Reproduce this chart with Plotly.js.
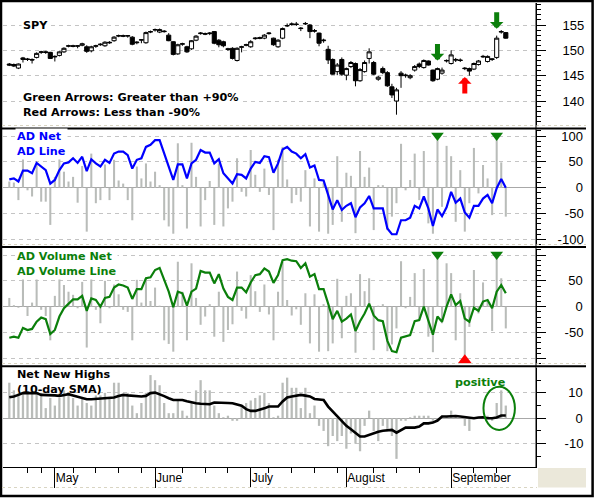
<!DOCTYPE html>
<html><head><meta charset="utf-8">
<script src="https://cdn.plot.ly/plotly-3.0.1.min.js"></script>
<style>html,body{margin:0;padding:0;background:#fff;overflow:hidden}#chart{width:594px;height:500px}</style>
</head><body><div id="chart"></div>
<script>
// ---- x axis (trading days, Apr 17 - Sep 20 2007) ----
const monthTickDays = [10, 32, 53, 74, 97];
const monthNames = ['May', 'June', 'July', 'August', 'September'];
const weekTickDays = [4, 7, 14, 19, 24, 29, 38, 43, 48, 57, 62, 67, 72, 80, 85, 90, 102, 107];

// ---- SPY candles ----
const spyOpen = [147.3,147.2,146.5,148.2,148.3,148.2,148.6,149.6,149.7,149.6,148.7,149.0,149.7,150.8,150.9,150.8,151.0,150.7,149.9,150.8,
151.1,150.9,151.6,151.9,152.8,152.9,152.8,152.6,151.5,152.0,151.5,153.6,154.0,153.6,153.8,153.0,151.7,149.3,151.2,150.7,
150.3,152.0,153.3,153.3,153.3,153.7,152.0,151.7,150.3,150.4,148.0,150.6,151.0,150.7,152.3,152.5,152.4,153.3,152.4,150.7,
152.4,154.8,155.1,155.2,154.4,155.2,155.0,153.9,153.4,151.9,150.2,148.2,145.8,148.2,145.1,146.8,147.4,144.0,145.8,148.4,
147.6,144.3,146.4,145.6,142.8,140.0,145.5,145.0,144.6,146.1,147.3,146.6,147.9,146.1,144.3,145.5,147.9,147.4,148.2,148.1,
146.5,146.4,146.3,147.2,148.7,147.8,148.2,148.6,153.6,153.5];
const spyHigh = [147.5,147.4,147.4,148.7,148.5,148.4,149.6,149.9,149.9,149.7,149.0,149.8,150.6,151.1,151.1,151.0,151.5,151.0,150.9,151.1,
151.4,151.8,151.8,152.8,153.1,153.1,153.0,152.8,151.8,152.2,153.7,153.9,154.3,154.3,154.0,153.4,151.8,151.3,151.5,150.9,
152.0,153.0,153.6,153.5,153.6,153.8,152.2,151.9,150.5,150.6,150.6,150.9,151.3,152.0,152.6,152.7,153.2,153.6,152.5,152.2,
154.5,155.3,155.5,155.6,154.6,155.6,155.2,154.2,153.5,152.3,150.9,148.4,147.5,148.6,146.6,147.9,147.6,146.5,148.0,150.4,
147.9,145.0,146.8,145.9,143.4,142.6,145.9,145.4,145.3,147.1,147.6,148.2,148.0,146.2,146.6,146.6,148.2,150.0,148.5,148.4,
146.7,146.6,147.6,148.1,149.1,149.0,148.4,152.9,154.0,153.6];
const spyLow = [146.9,146.7,146.3,147.6,147.9,147.4,148.4,149.3,149.3,148.3,147.8,148.8,149.5,150.6,150.6,150.4,150.8,149.5,149.6,150.5,
150.9,150.7,151.3,151.7,152.6,152.6,152.5,151.0,151.2,151.4,151.3,153.4,153.7,153.4,153.5,151.8,149.0,149.1,150.9,149.5,
150.1,151.8,153.1,153.0,153.0,151.2,150.6,150.6,149.9,148.2,147.8,149.6,150.8,150.5,152.1,152.2,152.2,153.1,150.9,150.5,
152.2,154.6,154.9,154.8,153.8,155.0,152.4,153.5,150.8,151.5,147.3,145.2,145.1,145.0,144.1,146.5,142.9,143.8,145.6,147.4,
145.1,144.0,145.3,142.8,140.6,137.3,142.6,144.6,144.3,145.8,146.5,146.4,147.0,143.8,144.1,145.2,147.6,147.2,147.7,147.7,
146.1,145.0,146.1,147.0,148.5,147.6,147.9,148.3,153.3,152.3];
const spyClose = [147.1,146.9,147.3,148.5,148.2,148.1,149.4,149.7,149.6,148.4,148.8,149.7,150.4,150.9,150.8,150.9,151.3,149.8,150.7,150.9,
151.2,151.6,151.5,152.6,152.9,152.8,152.9,151.2,151.6,152.1,153.5,153.7,154.1,154.1,153.7,151.9,149.2,151.1,151.3,149.7,
151.9,152.8,153.4,153.2,153.4,151.4,151.1,150.9,150.2,148.4,150.4,150.7,151.1,151.7,152.4,152.4,153.0,153.4,151.1,152.0,
154.3,154.9,155.2,155.1,154.3,155.3,153.7,153.8,151.4,152.0,148.1,145.3,147.1,145.3,146.4,147.6,144.0,146.2,147.6,149.7,
145.3,144.7,145.6,143.0,141.2,142.2,145.0,145.1,145.0,146.8,146.8,148.0,147.1,144.0,146.4,146.1,148.0,149.1,148.1,148.0,
146.4,145.9,147.4,147.9,148.8,148.8,148.3,152.4,153.7,152.4];

// ---- AD Net / AD Line ----
const adNet = [12,10,-24,63,-5,-17,47,-27,-27,-72,21,60,31,12,21,-29,42,-85,66,-30,
-24,45,-24,54,14,8,-24,-63,41,18,47,12,31,5,-63,-75,-89,86,5,-79,
87,21,-75,-24,13,-72,47,-75,-40,-27,57,-8,-17,73,25,-8,37,-14,-82,54,
79,16,-30,-14,-27,34,-75,18,-85,10,-89,-72,61,-66,29,23,-88,71,21,39,
-82,5,5,-82,-56,-30,85,-5,15,66,-24,71,-69,-89,92,-37,81,61,-66,34,
-85,-30,77,-11,44,18,-53,94,49,-56];
const adLine = [16,18,12,33,33,28,48,41,34,8,15,34,47,49,57,48,60,32,55,47,
41,54,48,66,70,70,63,37,54,57,79,83,92,92,66,41,15,45,45,18,
47,54,73,68,68,47,55,28,18,8,26,25,18,37,50,48,61,59,29,47,
74,79,70,66,57,65,39,43,15,14,-14,-42,-24,-43,-35,-30,-57,-38,-30,-16,
-40,-40,-40,-79,-90,-90,-63,-63,-58,-35,-40,-17,-40,-74,-42,-55,-38,-8,-29,-21,
-48,-58,-35,-35,-21,-14,-30,-1,17,0];

// ---- AD Volume Net / AD Volume Line ----
const adVolNet = [17,3,-2,58,-18,8,59,-6,-18,-65,21,61,42,29,23,-3,48,-79,61,-6,
-32,50,-3,43,24,-6,-10,-65,52,8,55,11,37,2,-65,-72,-87,87,29,-65,
84,17,-35,-19,5,-58,29,-68,-45,-34,68,-8,-23,61,30,-10,43,-15,-65,29,
87,13,-17,-5,-35,26,-71,24,-87,5,-86,-71,54,-61,21,26,-89,63,30,55,
-84,2,5,-86,-73,-42,88,-3,19,65,-26,73,-58,-88,98,-32,84,65,-65,26,
-97,-39,71,-13,47,10,-47,94,55,-42];
const adVolLine = [-60,-58,-60,-41,-45,-43,-29,-21,-24,-53,-45,-19,-3,5,14,14,21,-8,16,13,
0,17,19,37,43,41,37,15,34,34,55,57,71,75,52,29,-1,29,26,2,
29,35,69,66,66,45,63,35,19,13,37,37,28,47,61,63,74,68,46,61,
90,92,89,88,75,84,58,63,34,34,6,-24,-8,-29,-23,-15,-47,-28,-13,6,
-17,-26,-28,-66,-86,-88,-60,-58,-55,-28,-26,0,-28,-54,-19,-29,0,24,3,11,
-23,-29,-2,-8,10,13,-3,29,42,26];

// ---- Net New Highs / 10-day SMA ----
const netNewHighs = [14,11,10,10,10,10,10,10,4,8,5,8,11,10,8,5,8,6,5,9,
9,10,8,14,14,9,10,5,2,6,10,17,15,13,6,2,2,7,3,1,
6,11,15,11,11,5,2,0.4,1,-1,-1,5,6,7,8,9,10,6,0.4,1,
14,16,12,12,4,12,2,5,-3,-5,-11,-7,-9,-7,-12,-6,-10,-13,-3,3,
-5,-9,-3,-5,-7,-16,-1,-1,0.4,1,1,1,1,-1,-1,1,1,3,1,0,
-3,-5,0,0,0.4,1,-1,6,11,5];
const nnhSma = [8.3,8.6,9.2,9.9,9.9,9.9,9.9,9.2,9.2,9.2,9.0,8.8,9.2,9.5,9.0,8.6,8.0,7.5,7.5,7.6,
7.8,7.9,8.0,8.2,8.8,9.2,9.0,8.8,8.7,8.6,8.8,9.9,10.1,9.5,8.7,7.9,7.2,7.2,7.2,6.7,
6.2,5.9,5.7,5.6,5.5,6.2,6.2,6.2,6.0,5.9,5.4,4.9,3.6,2.9,2.9,3.3,3.9,4.6,4.6,4.6,
6.6,8.2,8.6,8.8,9.2,8.9,8.6,7.6,7.5,7.2,4.6,2.6,0.7,-1.3,-3.0,-4.3,-5.9,-7.2,-7.2,-6.6,
-5.7,-5.3,-4.9,-4.6,-4.6,-5.7,-4.6,-3.7,-3.7,-3.7,-3.3,-2.0,-2.0,-1.7,-0.9,0.7,0.7,0.9,0.9,0.7,
0.4,0.0,0.0,0.3,0.4,0.0,0.0,0.3,1.1,1.1];

// ---- y tick values / labels ----
const spyTickVals = [140, 145, 150, 155];
const spyTickLabels = ['140', '145', '150', '155'];
const adTickVals = [-100, -50, 0, 50, 100];
const adTickLabels = ['-100', '\u2007-50', '\u2008\u2007\u20070', '\u2008\u200750', '\u2008100'];
const adVolTickVals = [-100, -50, 0, 50, 100];
const adVolTickLabels = ['', '-50', '\u2008\u20070', '\u200850', ''];
const nnhTickVals = [-10, 0, 10];
const nnhTickLabels = ['-10', '\u2008\u20070', '\u200810'];

const threshold = 90;

// ---------------------------------------------------------------
const day = spyClose.map((_, i) => i);
const GREEN = '#0b7f0b', BLUE = '#0000ff', RED = '#ff0000', BARC = '#b9bcb9';
const greenDays = day.filter(i => adNet[i] > threshold || adVolNet[i] > threshold);
const redDays = day.filter(i => adNet[i] < -threshold || adVolNet[i] < -threshold);
const netGreen = day.filter(i => adNet[i] > threshold);
const netRed = day.filter(i => adNet[i] < -threshold);
const volGreen = day.filter(i => adVolNet[i] > threshold);
const volRed = day.filter(i => adVolNet[i] < -threshold);

const R1 = [135.07, 159.34], R2 = [-110.9, 111.7], R3 = [-110.8, 111.6], R4 = [-19.2, 19.8];
const topMark = r => r[1] - 0.048 * (r[1] - r[0]);
const botMark = r => r[0] + 0.032 * (r[1] - r[0]);

const traces = [
  {type: 'candlestick', x: day, open: spyOpen, high: spyHigh, low: spyLow, close: spyClose,
   xaxis: 'x', yaxis: 'y', whiskerwidth: 0, hoverinfo: 'skip', showlegend: false,
   increasing: {line: {color: '#000', width: 1}, fillcolor: '#fff'},
   decreasing: {line: {color: '#000', width: 1}, fillcolor: '#000'}},
  {type: 'bar', x: day, y: adNet, xaxis: 'x', yaxis: 'y2', width: 0.45, marker: {color: BARC, line: {width: 0}}, hoverinfo: 'skip', showlegend: false},
  {type: 'scatter', mode: 'lines', x: day, y: adLine, xaxis: 'x', yaxis: 'y2', line: {color: BLUE, width: 2.2}, hoverinfo: 'skip', showlegend: false},
  {type: 'scatter', mode: 'markers', x: netGreen, y: netGreen.map(() => topMark(R2)), xaxis: 'x', yaxis: 'y2', cliponaxis: false,
   marker: {symbol: 'triangle-down', size: 11, color: GREEN, line: {width: 0}}, hoverinfo: 'skip', showlegend: false},
  {type: 'scatter', mode: 'markers', x: netRed, y: netRed.map(() => botMark(R2)), xaxis: 'x', yaxis: 'y2', cliponaxis: false,
   marker: {symbol: 'triangle-up', size: 12, color: RED, line: {width: 0}}, hoverinfo: 'skip', showlegend: false},
  {type: 'bar', x: day, y: adVolNet, xaxis: 'x', yaxis: 'y3', width: 0.45, marker: {color: BARC, line: {width: 0}}, hoverinfo: 'skip', showlegend: false},
  {type: 'scatter', mode: 'lines', x: day, y: adVolLine, xaxis: 'x', yaxis: 'y3', line: {color: GREEN, width: 2.2}, hoverinfo: 'skip', showlegend: false},
  {type: 'scatter', mode: 'markers', x: volGreen, y: volGreen.map(() => topMark(R3)), xaxis: 'x', yaxis: 'y3', cliponaxis: false,
   marker: {symbol: 'triangle-down', size: 11, color: GREEN, line: {width: 0}}, hoverinfo: 'skip', showlegend: false},
  {type: 'scatter', mode: 'markers', x: volRed, y: volRed.map(() => botMark(R3)), xaxis: 'x', yaxis: 'y3', cliponaxis: false,
   marker: {symbol: 'triangle-up', size: 12, color: RED, line: {width: 0}}, hoverinfo: 'skip', showlegend: false},
  {type: 'bar', x: day, y: netNewHighs, xaxis: 'x', yaxis: 'y4', width: 0.5, marker: {color: BARC, line: {width: 0}}, hoverinfo: 'skip', showlegend: false},
  {type: 'scatter', mode: 'lines', x: day, y: nnhSma, xaxis: 'x', yaxis: 'y4', line: {color: '#000', width: 2.6}, hoverinfo: 'skip', showlegend: false}
];

const tickFont = {family: '"Liberation Sans", Arial, sans-serif', size: 13, color: '#000'};
function yAx(domain, range, vals, text, minorD, standoff, zero) {
  return {domain, range, side: 'right', anchor: 'x', showline: true, linecolor: '#000', linewidth: 1,
    ticks: 'outside', ticklen: 9, tickwidth: 1, tickcolor: '#000', tickmode: 'array', tickvals: vals, ticktext: text,
    tickfont: tickFont, ticklabelstandoff: standoff,
    showgrid: true, gridcolor: '#c4c4c4', griddash: '4px,4px', gridwidth: 1,
    zeroline: zero, zerolinecolor: '#a8a8a8', zerolinewidth: 1,
    minor: {dtick: minorD, tick0: 0, ticks: 'outside', ticklen: 4, tickcolor: '#000', tickwidth: 1, showgrid: false},
    fixedrange: true};
}

const px = v => (v - 3) / 533;      // pixel -> paper x
const py = v => (467 - v) / 464;    // pixel -> paper y

const lbl = (text, x, y, color, bg) => ({xref: 'paper', yref: 'paper', x: px(x), y: py(y), xanchor: 'left', yanchor: 'middle',
  align: 'left', text: text, showarrow: false, font: {family: '"DejaVu Sans", Verdana, sans-serif', size: 11.2, color, weight: 'bold'},
  bgcolor: bg ? '#fff' : 'rgba(0,0,0,0)', borderpad: 1});

const annotations = [
  lbl('SPY', 21, 25, '#000', true),
  lbl('Green Arrows: Greater than +90%<br>Red Arrows: Less than -90%', 21, 105, '#000', true),
  lbl('AD Net<br>AD Line', 15, 144.2, BLUE, true),
  lbl('AD Volume Net<br>AD Volume Line', 15, 263.7, GREEN, true),
  lbl('Net New Highs<br>(10-day SMA)', 15, 381.7, '#000', false),
  {xref: 'paper', yref: 'paper', x: px(480.7), y: py(382.7), xanchor: 'center', yanchor: 'middle', text: 'positive',
   showarrow: false, font: {family: '"DejaVu Sans", Verdana, sans-serif', size: 11.2, color: GREEN, weight: 'bold'}}
];
greenDays.forEach(i => annotations.push({xref: 'x', yref: 'y', x: i, y: spyHigh[i], text: '', showarrow: true,
  arrowhead: 1, arrowsize: 0.45, arrowwidth: 5, arrowcolor: GREEN, ax: 0, ay: -18, yshift: 7, standoff: 0}));
redDays.forEach(i => annotations.push({xref: 'x', yref: 'y', x: i, y: spyLow[i], text: '', showarrow: true,
  arrowhead: 1, arrowsize: 0.45, arrowwidth: 5, arrowcolor: RED, ax: 0, ay: 18, yshift: -7, standoff: 0}));

const BEIGE = '#d9d5c3';
const shapes = [
  {type: 'rect', xref: 'paper', yref: 'paper', x0: px(1), x1: px(592.6), y0: py(496), y1: py(1), line: {color: '#000', width: 2.5}, fillcolor: 'rgba(0,0,0,0)'},
  {type: 'rect', xref: 'paper', yref: 'paper', x0: px(538), x1: px(586), y0: py(487.5), y1: py(468), line: {width: 0}, fillcolor: '#ebe8da'},
  {type: 'line', xref: 'paper', yref: 'paper', x0: px(2), x1: px(537), y0: py(487.5), y1: py(487.5), line: {color: BEIGE, width: 1, dash: 'dot'}}
];
[125.5, 244.5, 363.5].forEach(v => shapes.push({type: 'line', xref: 'paper', yref: 'paper', x0: px(2), x1: px(586), y0: py(v), y1: py(v), line: {color: BEIGE, width: 1, dash: 'dot'}}));
[128.5, 247, 366.3].forEach(v => shapes.push({type: 'line', xref: 'paper', yref: 'paper', x0: px(1), x1: px(586), y0: py(v), y1: py(v), line: {color: '#000', width: 2}}));
shapes.push({type: 'line', xref: 'paper', yref: 'paper', x0: 1, x1: 1, y0: 0, y1: 1, line: {color: '#000', width: 1}});
// green ellipse around the latest (positive) readings
shapes.push({type: 'circle', xref: 'x', yref: 'y4', x0: 104.1, x1: 111, y0: -4.6, y1: 12.4, line: {color: GREEN, width: 2}});

const layout = {
  width: 594, height: 500, margin: {l: 3, r: 58, t: 3, b: 33, autoexpand: false},
  paper_bgcolor: '#fff', plot_bgcolor: '#fff', showlegend: false,
  boxgap: 0.05, boxgroupgap: 0.05, barmode: 'overlay',
  xaxis: {domain: [0, 1], range: [-1.383, 115.63], anchor: 'y4', showline: true, linecolor: '#000', linewidth: 1,
    ticks: 'outside', ticklen: 20, tickwidth: 1, tickcolor: '#000', tickmode: 'array', tickvals: monthTickDays, ticktext: monthNames,
    ticklabelposition: 'outside right', ticklabelstandoff: 0,
    tickfont: {family: '"Liberation Sans", Arial, sans-serif', size: 12, color: '#000'},
    showgrid: false, zeroline: false, fixedrange: true, rangeslider: {visible: false},
    minor: {tickvals: weekTickDays, ticks: 'outside', ticklen: 5, tickcolor: '#000', tickwidth: 1, showgrid: false}},
  yaxis: yAx([0.7349, 1], R1, spyTickVals, spyTickLabels, 1, 14, false),
  yaxis2: yAx([0.4784, 0.7263], R2, adTickVals, adTickLabels, 10, 9, true),
  yaxis3: yAx([0.2220, 0.4698], R3, adVolTickVals, adVolTickLabels, 10, 16, true),
  yaxis4: yAx([0, 0.2134], R4, nnhTickVals, nnhTickLabels, 5, 16, true),
  annotations, shapes
};

Plotly.newPlot('chart', traces, layout, {staticPlot: true, displayModeBar: false});
</script>
</body></html>
